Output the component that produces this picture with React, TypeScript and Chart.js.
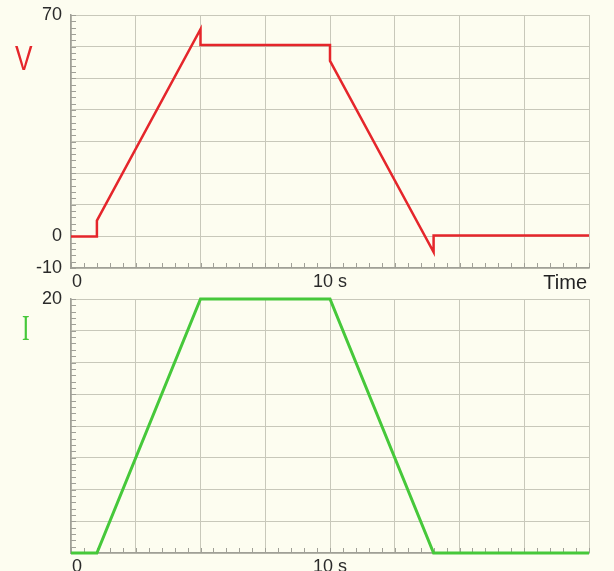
import React, { useEffect, useRef } from 'react';
import { Chart, registerables } from 'chart.js';
Chart.register(...registerables);

// ---- data ----
const timeV = [0, 1, 1, 5, 5, 10, 10, 14, 14, 20];
const voltage = [0, 0, 5, 65.5, 60.5, 60.5, 55.5, -5, 0.3, 0.3];
const timeI = [0, 1, 5, 10, 14, 20];
const current = [0, 0, 20, 20, 0, 0];

const xLabelValues = [0, 10];
const xLabelTexts = ['0', '10 s'];
const vTickLabels = [70, 0, -10];
const iTickLabels = [20];

const BG = '#fdfdf0';
const GRID = '#c8c8ba';
const AXIS = '#a0a097';
const FONT = '"Liberation Sans", Arial, sans-serif';

type Extra = { text: string; x: number; y: number; font: string; color: string; align: CanvasTextAlign; sx?: number };

function overlay(xMinor: number, yMinor: number, extras: Extra[]) {
  return {
    id: 'overlay',
    beforeDatasetsDraw(chart: any) {
      const { ctx, chartArea, scales } = chart;
      const x = scales.x, y = scales.y;
      ctx.save();
      ctx.strokeStyle = AXIS;
      ctx.lineWidth = 1;
      ctx.beginPath();
      for (let v = x.min; v <= x.max + 1e-9; v += xMinor) {
        const px = Math.round(x.getPixelForValue(v)) + 0.5;
        ctx.moveTo(px, chartArea.bottom);
        ctx.lineTo(px, chartArea.bottom - 5);
      }
      for (let v = y.min; v <= y.max + 1e-9; v += yMinor) {
        const py = Math.round(y.getPixelForValue(v)) + 0.5;
        ctx.moveTo(chartArea.left, py);
        ctx.lineTo(chartArea.left + 5, py);
      }
      ctx.stroke();
      ctx.restore();
    },
    afterDraw(chart: any) {
      const { ctx, chartArea, scales } = chart;
      const x = scales.x;
      ctx.save();
      ctx.fillStyle = '#2a2a2a';
      ctx.font = `18px ${FONT}`;
      ctx.textAlign = 'center';
      ctx.textBaseline = 'top';
      xLabelValues.forEach((v, i) => {
        const px = x.getPixelForValue(v) + (v === x.min ? 6 : 0);
        ctx.fillText(xLabelTexts[i], px, chartArea.bottom + 5);
      });
      extras.forEach((e) => {
        ctx.save();
        ctx.font = e.font;
        ctx.fillStyle = e.color;
        ctx.textAlign = e.align;
        ctx.textBaseline = 'top';
        ctx.translate(e.x, e.y);
        ctx.scale(e.sx ?? 1, 1);
        ctx.fillText(e.text, 0, 0);
        ctx.restore();
      });
      ctx.restore();
    },
  };
}

function makeOptions(yMin: number, yMax: number, yStep: number, yLabels: number[], padTop: number, xAxisHeight: number): any {
  return {
    responsive: false,
    animation: false,
    devicePixelRatio: 1,
    layout: { padding: { top: padTop, right: 25, left: 0, bottom: 0 } },
    plugins: { legend: { display: false }, tooltip: { enabled: false } },
    elements: { point: { radius: 0 }, line: { tension: 0 } },
    scales: {
      x: {
        type: 'linear',
        min: 0,
        max: 20,
        ticks: { stepSize: 2.5, display: false },
        grid: { color: GRID, drawTicks: false },
        border: { color: AXIS, width: 1.5 },
        afterFit: (s: any) => {
          s.height = xAxisHeight;
          s.paddingLeft = 0; s.paddingRight = 0;
        },
      },
      y: {
        type: 'linear',
        min: yMin,
        max: yMax,
        ticks: {
          stepSize: yStep,
          autoSkip: false,
          padding: 9,
          color: '#2a2a2a',
          font: { size: 18, family: FONT },
          callback: (v: number) => (yLabels.includes(v) ? String(v) : ''),
        },
        grid: { color: GRID, drawTicks: false },
        border: { color: AXIS, width: 1.5 },
        afterFit: (s: any) => {
          s.width = 71;
          s.paddingTop = 0; s.paddingBottom = 0;
        },
      },
    },
  };
}

export default function App() {
  const topRef = useRef<HTMLCanvasElement>(null);
  const botRef = useRef<HTMLCanvasElement>(null);

  useEffect(() => {
    const c1 = new Chart(topRef.current!, {
      type: 'line',
      data: {
        datasets: [{
          data: timeV.map((t, i) => ({ x: t, y: voltage[i] })),
          borderColor: '#e5262b',
          borderWidth: 2.5,
          clip: 4,
        }],
      },
      options: makeOptions(-10, 70, 10, vTickLabels, 15, 22),
      plugins: [overlay(0.5, 2, [
        { text: 'V', x: 15, y: 43, font: `35px ${FONT}`, color: '#e5262b', align: 'left', sx: 0.75 },
        { text: 'Time', x: 587, y: 273, font: `20px ${FONT}`, color: '#222', align: 'right' },
      ])],
    } as any);
    const c2 = new Chart(botRef.current!, {
      type: 'line',
      data: {
        datasets: [{
          data: timeI.map((t, i) => ({ x: t, y: current[i] })),
          borderColor: '#46c83a',
          borderWidth: 3,
          clip: 4,
        }],
      },
      options: makeOptions(0, 20, 2.5, iTickLabels, 9, 18),
      plugins: [overlay(0.5, 0.5, [
        { text: 'I', x: 22, y: 23, font: `35px "Liberation Serif", serif`, color: '#46c83a', align: 'left', sx: 0.65 },
      ])],
    } as any);
    return () => { c1.destroy(); c2.destroy(); };
  }, []);

  return (
    <div style={{ position: 'absolute', left: 0, top: 0, width: 614, height: 571, background: BG, overflow: 'hidden' }}>
      <canvas ref={topRef} width={614} height={290} style={{ display: 'block', width: 614, height: 290 }} />
      <canvas ref={botRef} width={614} height={281} style={{ display: 'block', width: 614, height: 281 }} />
    </div>
  );
}
